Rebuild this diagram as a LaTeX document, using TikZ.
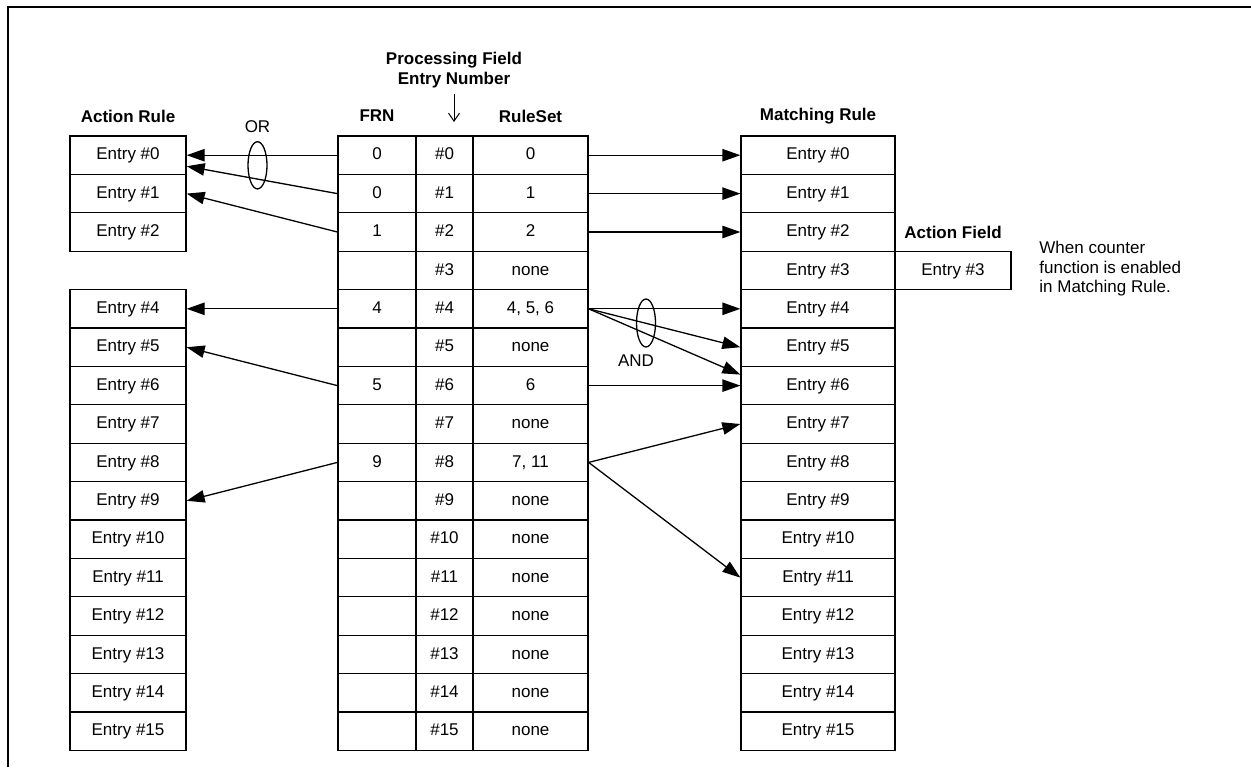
\documentclass[tikz,border=0pt]{standalone}
\usepackage{fontspec}
\setmainfont{Liberation Sans}
\usetikzlibrary{arrows.meta}

\tikzset{
    txt/.style={inner sep=0pt, font=\fontsize{8.5}{9.75}\selectfont},
    head/.style={txt, font=\fontsize{8.5}{9.75}\selectfont\bfseries},
    cell/.style={txt, draw, line width=0.65pt, minimum height=19.2pt, text height=6.4pt, text depth=1.8pt},
    arr/.style={-{Triangle[length=9pt,width=6.2pt]}, line width=0.65pt},
}

\begin{document}
\begin{tikzpicture}[x=0.5pt, y=-0.5pt]
        \useasboundingbox (0,0) rectangle (1251,767);
        \draw [line width=1pt] (8,767) -- (8,7) -- (1251,7);

        \node [head] (arhead) at (128,116) {Action Rule};
        \node [head] (frnhead) at (377,116) {FRN};
        \node [head] (rshead) at (530.5,116) {RuleSet};
        \node [head] (mrhead) at (818,116) {Matching Rule};
        \node [head] (afhead) at (953,232) {Action Field};
        \node [head, align=center] (pfhead) at (454,70) {Processing Field\\Entry Number};
        \coordinate (pftip) at (454,122);
        \draw [-{Straight Barb[length=4pt,width=5.5pt]}, line width=0.5pt, shorten <=3pt] (pfhead.south) -- (pftip);

        \foreach \i in {0,1,2,4,5,...,15}
        {
            \node [cell, minimum width=58pt] (ar\i) at (128,{136+38.4*(\i+0.5)}) {Entry \#\i};
        }
        \foreach \i/\f/\r in {0/0/0, 1/0/1, 2/1/2, 3//none, 4/4/{4, 5, 6}, 5//none, 6/5/6, 7//none,
                              8/9/{7, 11}, 9//none, 10//none, 11//none, 12//none, 13//none, 14//none, 15//none}
        {
            \node [cell, minimum width=39pt] (frn\i) at (377,{136+38.4*(\i+0.5)}) {\f};
            \node [cell, minimum width=28.5pt] (pf\i) at (444.5,{136+38.4*(\i+0.5)}) {\#\i};
            \node [cell, minimum width=57.5pt] (rs\i) at (530.5,{136+38.4*(\i+0.5)}) {\r};
            \node [cell, minimum width=77pt] (mr\i) at (818,{136+38.4*(\i+0.5)}) {Entry \#\i};
        }
        \node [cell, minimum width=58pt] (af3) at (953,{136+38.4*3.5}) {Entry \#3};
        \node [txt, align=left, anchor=west] (cnote) at (1039,269) {When counter\\function is enabled\\in Matching Rule.};

        \draw [arr] (frn0.west) -- (ar0.east);
        \draw [arr] (frn1.west) -- ([yshift=-5.5pt]ar0.east);
        \draw [arr] (frn2.west) -- (ar1.east);
        \draw [arr] (frn4.west) -- (ar4.east);
        \draw [arr] (frn6.west) -- (ar5.east);
        \draw [arr] (frn8.west) -- (ar9.east);

        \foreach \i in {0,1,2,4,6}
        {
            \draw [arr] (rs\i.east) -- (mr\i.west);
        }
        \draw [arr] (rs4.east) -- (mr5.west);
        \draw [arr] (rs4.east) -- ([yshift=5.5pt]mr6.west);
        \draw [arr] (rs8.east) -- (mr7.west);
        \draw [arr] (rs8.east) -- (mr11.west);

        \draw [line width=0.65pt] (257.5,165.3) ellipse [x radius=4.75pt, y radius=11.8pt];
        \node [txt] (orlabel) at (257.5,127) {OR};
        \draw [line width=0.65pt] (646,323) ellipse [x radius=4.75pt, y radius=12pt];
        \node [txt] (andlabel) at (636,361) {AND};
    \end{tikzpicture}
\end{document}
